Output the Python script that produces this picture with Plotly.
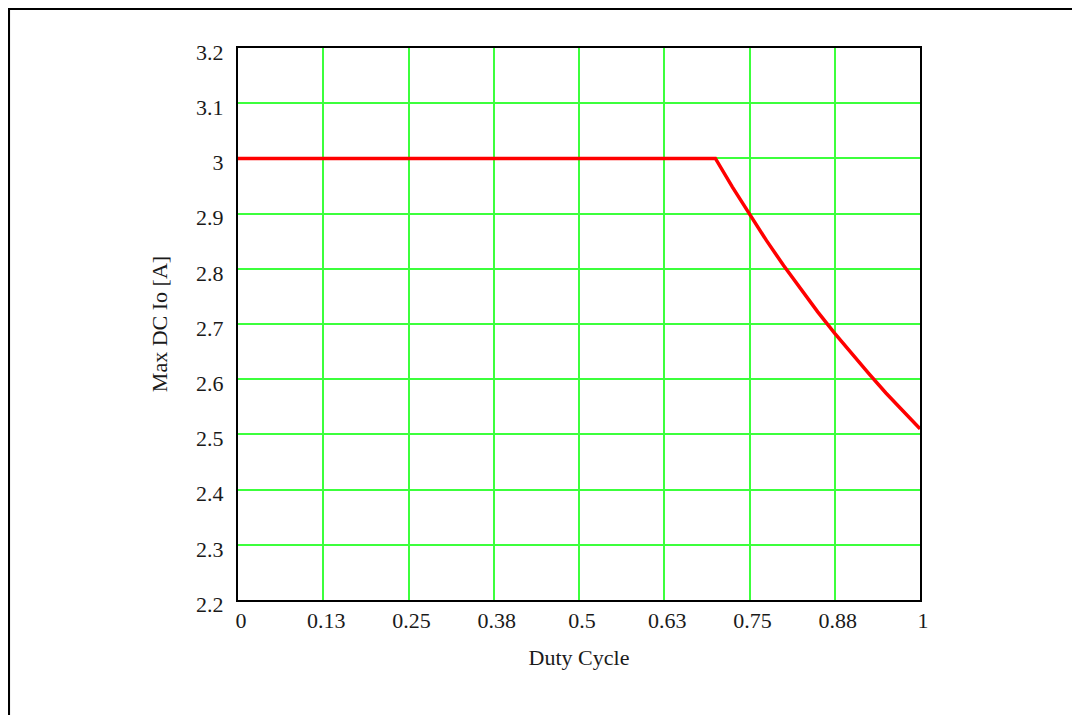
import plotly.graph_objects as go

# Data
duty_cycle = [0.0, 0.70, 0.725, 0.75, 0.775, 0.80, 0.825, 0.85, 0.875, 0.90, 0.925, 0.95, 0.975, 1.00]
max_dc_io = [3.00, 3.00, 2.948, 2.898, 2.851, 2.806, 2.763, 2.722, 2.683, 2.646, 2.610, 2.575, 2.542, 2.510]

x_tick_vals = [0, 0.125, 0.25, 0.375, 0.5, 0.625, 0.75, 0.875, 1.0]
x_tick_text = ["0", "0.13", "0.25", "0.38", "0.5", "0.63", "0.75", "0.88", "1"]
y_tick_vals = [2.2, 2.3, 2.4, 2.5, 2.6, 2.7, 2.8, 2.9, 3.0, 3.1, 3.2]
y_tick_text = ["2.2", "2.3", "2.4", "2.5", "2.6", "2.7", "2.8", "2.9", "3", "3.1", "3.2"]

W, H = 1080, 715
ML, MR, MT, MB = 230, 168, 40, 123
pw, ph = W - ML - MR, H - MT - MB

serif = "Liberation Serif, Times New Roman, serif"
grid_green = "#3cff3c"
txt = "#1a1a1a"

fig = go.Figure()
fig.add_trace(go.Scatter(
    x=duty_cycle, y=max_dc_io, mode="lines",
    line=dict(color="#ff0000", width=3.5),
    showlegend=False, hoverinfo="skip",
))

fig.update_layout(
    width=W, height=H,
    margin=dict(l=ML, r=MR, t=MT, b=MB, pad=0),
    paper_bgcolor="white", plot_bgcolor="white",
    showlegend=False,
    font=dict(family=serif, size=22, color=txt),
    xaxis=dict(
        range=[0, 1], tickmode="array", tickvals=x_tick_vals, ticktext=x_tick_text,
        showgrid=True, gridcolor=grid_green, gridwidth=1.5,
        zeroline=False, showline=True, linecolor="black", linewidth=2, mirror=True,
        ticks="", ticklabelstandoff=0, ticklabelshift=3,
        tickfont=dict(family=serif, size=22, color=txt),
        title=dict(text="Duty Cycle", font=dict(family=serif, size=22, color=txt), standoff=17),
    ),
    yaxis=dict(
        range=[2.2, 3.2], tickmode="array", tickvals=y_tick_vals, ticktext=y_tick_text,
        showgrid=True, gridcolor=grid_green, gridwidth=1.5,
        zeroline=False, showline=True, linecolor="black", linewidth=2, mirror=True,
        ticks="", ticklabelstandoff=8, ticklabelshift=4,
        tickfont=dict(family=serif, size=22, color=txt),
        title=dict(text="Max DC Io [A]", font=dict(family=serif, size=22, color=txt), standoff=22),
    ),
)

# outer document frame (top-left corner visible, continues off-page)
fx0 = (0.8 - ML) / pw
fy1 = 1 + (MT - 0.8) / ph
fig.add_shape(type="rect", xref="paper", yref="paper",
              x0=fx0, x1=(W + 20 - ML) / pw, y0=-(MB + 20) / ph, y1=fy1,
              line=dict(color="black", width=2.5), layer="below")

fig.write_html("out.html")
